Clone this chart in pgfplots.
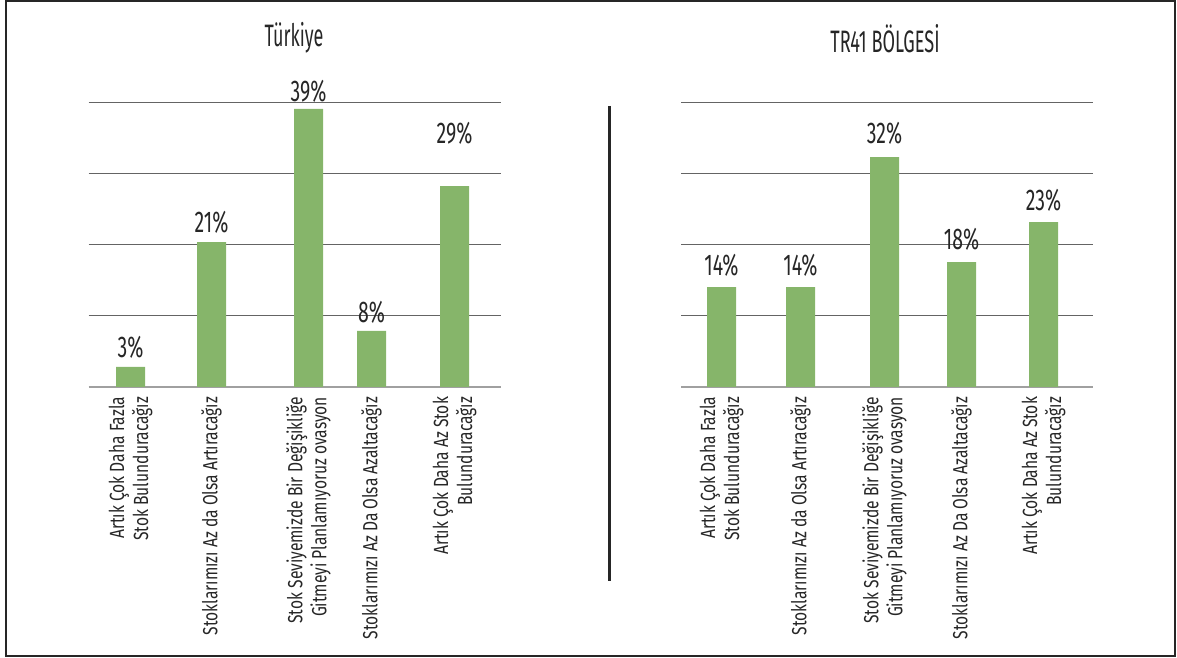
\documentclass[border=0pt]{standalone}
\usepackage{fontspec}
\setmainfont{Fira Sans}[FakeStretch=0.65]
\newfontfamily\titlefontA{Fira Sans}[FakeStretch=0.58]
\newfontfamily\titlefontB{Fira Sans}[FakeStretch=0.585]
\newfontfamily\tickfont{Fira Sans}[FakeStretch=0.76]
\usepackage{pgfplots}
\pgfplotsset{compat=1.18}
\usepackage{pgfplotstable}

\definecolor{bargreen}{RGB}{134,181,106}
\definecolor{txt}{RGB}{38,38,38}
\definecolor{gridc}{RGB}{100,100,100}
\definecolor{basec}{RGB}{160,160,160}

\pgfplotstableread{
x y lab off
130.5 2.81 3 9.7
211.5 20.35 21 10
308.5 39.06 39 7.3
371.5 7.88 8 8.7
454.5 28.23 29 42.7
}\turkiye

\pgfplotstableread{
x y lab off
721.5 14.02 14 12
800.5 14.02 14 12
884.5 32.30 32 13.3
961.5 17.54 18 12.7
1043.5 23.16 23 12
}\bolge

\pgfplotsset{mystyle/.style={
  scale only axis, width=412pt, height=284.5pt,
  ymin=0, ymax=40,
  axis line style={draw=none},
  ytick={10,20,30,40}, yticklabels={},
  ymajorgrids, grid style={gridc, line width=1.2pt},
  extra y ticks={0}, extra y tick labels={},
  extra y tick style={grid style={basec, line width=1.6pt}},
  major tick length=0pt,
  xtick=data,
  xticklabel style={rotate=90, anchor=east, align=right,
    font=\tickfont\fontsize{20.5}{24}\selectfont, text=txt, inner sep=0pt,
    execute at begin node={\baselineskip=24pt\relax}},
  xticklabel shift=10pt,
  ybar, bar width=29,
  point meta=explicit symbolic,
  nodes near coords={\pgfplotspointmeta\%},
  visualization depends on={\thisrow{off} \as \off},
  every node near coord/.append style={anchor=base, inner sep=0pt,
    yshift=\off pt, font=\fontsize{30}{30}\selectfont, text=txt},
}}

\begin{document}
\begin{tikzpicture}
\useasboundingbox (0pt,0pt) rectangle (1177pt,-658pt);
\draw[line width=2pt, color=black!85] (6pt,-1pt) rectangle (1175pt,-656pt);
\draw[line width=3pt, color=black!85] (609pt,-106pt) -- (609pt,-581pt);
\node[anchor=base, font=\titlefontA\fontsize{31}{31}\selectfont, text=txt] at (294pt,-47pt) {Türkiye};
\node[anchor=base, font=\titlefontB\fontsize{31}{31}\selectfont, text=txt] at (885pt,-53pt) {TR41 BÖLGESİ};

\begin{axis}[mystyle, at={(88.5pt,-386.8pt)}, anchor=south west,
  xmin=88.5, xmax=500.5,
  xticklabels={{Artık Çok Daha Fazla\\Stok Bulunduracağız},
    {Stoklarımızı Az da Olsa Artıracağız},
    {Stok Seviyemizde Bir Değişikliğe\\Gitmeyi Planlamıyoruz ovasyon},
    {Stoklarımızı Az Da Olsa Azaltacağız},
    {Artık Çok Daha Az Stok\\Bulunduracağız}}]
\addplot[fill=bargreen, draw=none] table[x=x, y=y, meta=lab] {\turkiye};
\end{axis}

\begin{axis}[mystyle, at={(681pt,-386.8pt)}, anchor=south west,
  xmin=681, xmax=1093,
  xticklabels={{Artık Çok Daha Fazla\\Stok Bulunduracağız},
    {Stoklarımızı Az da Olsa Artıracağız},
    {Stok Seviyemizde Bir Değişikliğe\\Gitmeyi Planlamıyoruz ovasyon},
    {Stoklarımızı Az Da Olsa Azaltacağız},
    {Artık Çok Daha Az Stok\\Bulunduracağız}}]
\addplot[fill=bargreen, draw=none] table[x=x, y=y, meta=lab] {\bolge};
\end{axis}
\end{tikzpicture}
\end{document}
